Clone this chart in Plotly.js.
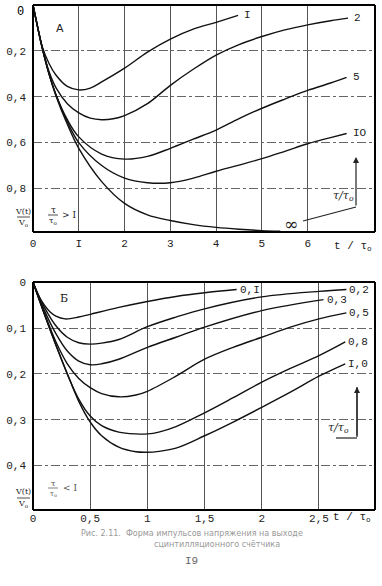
<!DOCTYPE html>
<html><head><meta charset="utf-8">
<script src="https://cdn.plot.ly/plotly-3.0.1.min.js"></script>
<style>html,body{margin:0;padding:0;background:#fff}#c{width:382px;height:586px}</style>
</head><body><div id="c"></div>
<script>
// ---- Chart A (tau/tau0 > 1) ----
const tA_1 = [0,0.1,0.2,0.35,0.5,0.75,1,1.25,1.5,2,2.5,3,3.5,4,4.48];
const vA_1 = [0,0.095,0.18,0.255,0.305,0.355,0.37,0.362,0.335,0.275,0.205,0.148,0.105,0.075,0.045];
const tA_2 = [0,0.1,0.2,0.35,0.5,0.75,1,1.25,1.5,1.75,2,2.5,3,3.5,4,4.5,5,5.5,6,6.5,6.88];
const vA_2 = [0,0.095,0.185,0.29,0.36,0.43,0.47,0.493,0.5,0.496,0.482,0.43,0.35,0.28,0.218,0.172,0.137,0.108,0.086,0.068,0.057];
const tA_5 = [0,0.1,0.2,0.35,0.5,0.75,1,1.5,2,2.5,3,3.5,4,4.5,5,5.5,6,6.5,6.85];
const vA_5 = [0,0.095,0.185,0.3,0.39,0.5,0.575,0.65,0.672,0.66,0.625,0.585,0.545,0.495,0.45,0.41,0.372,0.34,0.315];
const tA_10 = [0,0.1,0.2,0.35,0.5,0.75,1,1.5,2,2.5,3,3.5,4,4.5,5,5.5,6,6.5,6.85];
const vA_10 = [0,0.095,0.185,0.3,0.39,0.51,0.6,0.7,0.755,0.775,0.775,0.755,0.725,0.698,0.67,0.638,0.605,0.578,0.56];
const tA_inf = [0,0.1,0.2,0.35,0.5,0.75,1,1.5,2,2.5,3,3.5,4,4.5,5,5.4];
const vA_inf = [0,0.095,0.185,0.3,0.395,0.52,0.625,0.77,0.865,0.915,0.94,0.958,0.97,0.978,0.984,0.987];
const labelsA = ["I","2","5","IO","∞"];
const xTicksA = [0,1,2,3,4,5,6];
const xTickTextA = ["0","I","2","3","4","5","6"];
const yTicksA = [0,0.2,0.4,0.6,0.8];
const yTickTextA = ["0","0,2","0,4","0,6","0,8"];

// ---- Chart Б (tau/tau0 < 1) ----
const tB_01 = [0,0.05,0.1,0.15,0.2,0.28,0.4,0.5,0.75,1,1.25,1.5,1.78];
const vB_01 = [0,0.03,0.05,0.065,0.074,0.08,0.076,0.07,0.055,0.042,0.031,0.023,0.016];
const tB_02 = [0,0.1,0.2,0.3,0.4,0.5,0.6,0.75,1,1.25,1.5,2,2.5,2.74];
const vB_02 = [0,0.055,0.095,0.12,0.132,0.135,0.133,0.125,0.097,0.076,0.058,0.032,0.02,0.016];
const tB_03 = [0,0.1,0.2,0.3,0.4,0.5,0.6,0.75,1,1.25,1.5,2,2.54];
const vB_03 = [0,0.062,0.112,0.15,0.172,0.18,0.178,0.168,0.142,0.12,0.098,0.062,0.038];
const tB_05 = [0,0.1,0.2,0.3,0.4,0.5,0.6,0.75,0.9,1,1.25,1.5,1.75,2,2.25,2.5,2.74];
const vB_05 = [0,0.068,0.13,0.178,0.21,0.23,0.243,0.25,0.246,0.238,0.205,0.168,0.142,0.12,0.098,0.08,0.067];
const tB_08 = [0,0.1,0.2,0.3,0.4,0.5,0.6,0.75,0.9,1,1.1,1.25,1.5,1.75,2,2.25,2.5,2.73];
const vB_08 = [0,0.07,0.137,0.2,0.255,0.292,0.313,0.327,0.331,0.331,0.327,0.315,0.285,0.252,0.218,0.188,0.16,0.13];
const tB_10 = [0,0.1,0.2,0.3,0.4,0.5,0.6,0.75,0.9,1,1.1,1.25,1.5,1.75,2,2.25,2.5,2.73];
const vB_10 = [0,0.07,0.137,0.2,0.26,0.305,0.335,0.36,0.37,0.371,0.369,0.362,0.335,0.305,0.273,0.24,0.205,0.178];
const labelsB = ["0,I","0,2","0,3","0,5","0,8","I,0"];
const xTicksB = [0,0.5,1,1.5,2,2.5];
const xTickTextB = ["0","0,5","1","1,5","2","2,5"];
const yTicksB = [0,0.1,0.2,0.3,0.4];
const yTickTextB = ["0","0,1","0,2","0,3","0,4"];

const W = 382, H = 586;
const px = x => x / W, py = y => 1 - y / H;
const mono = "Liberation Mono, DejaVu Sans Mono, monospace";
const serif = "DejaVu Serif, serif";
const boxA = {l:33, r:375, t:5, b:232};
const boxB = {l:33, r:375, t:282, b:510};

const seriesA = [[tA_1,vA_1],[tA_2,vA_2],[tA_5,vA_5],[tA_10,vA_10],[tA_inf,vA_inf]];
const seriesB = [[tB_01,vB_01],[tB_02,vB_02],[tB_03,vB_03],[tB_05,vB_05],[tB_08,vB_08],[tB_10,vB_10]];

const line = {color:"#111", width:1.4, shape:"spline", smoothing:1};
const traces = [];
seriesA.forEach(s => traces.push({x:s[0], y:s[1], xaxis:"x", yaxis:"y", mode:"lines", line, hoverinfo:"skip", cliponaxis:false}));
seriesB.forEach(s => traces.push({x:s[0], y:s[1], xaxis:"x2", yaxis:"y2", mode:"lines", line, hoverinfo:"skip", cliponaxis:false}));

const ann = [];
seriesA.slice(0,4).forEach((s,i) => ann.push({xref:"x", yref:"y", x:s[0][s[0].length-1], y:s[1][s[1].length-1],
  text:labelsA[i], showarrow:false, xanchor:"left", yanchor:"middle", xshift:4, font:{family:mono, size:11, color:"#222"}}));
seriesB.forEach((s,i) => ann.push({xref:"x2", yref:"y2", x:s[0][s[0].length-1], y:s[1][s[1].length-1],
  text:labelsB[i], showarrow:false, xanchor:"left", yanchor:"middle", xshift:1, font:{family:mono, size:11, color:"#222"}}));

const txt = (x,y,t,o={}) => Object.assign({xref:"paper", yref:"paper", x:px(x), y:py(y), text:t, showarrow:false,
  xanchor:"center", yanchor:"middle", font:{family:mono, size:11, color:"#222"}}, o);

ann.push(txt(26,12,yTickTextA[0],{xanchor:"right", font:{family:mono, size:12, color:"#000"}}));

ann.push(txt(60,28,"A",{font:{family:"DejaVu Sans", size:11, color:"#222"}}));
ann.push(txt(64,298,"Б",{font:{family:serif, size:11, color:"#222"}}));
ann.push(txt(291,224,"∞",{font:{family:serif, size:17, color:"#222"}}));
ann.push(txt(343,196,"<i>τ/τ<sub>o</sub></i>",{font:{family:serif, size:11, color:"#222"}}));
ann.push(txt(338,428,"<i>τ/τ<sub>o</sub></i>",{font:{family:serif, size:11, color:"#222"}}));
ann.push(txt(353,246,"t / τ<sub>o</sub>",{font:{family:mono, size:11, color:"#222"}}));
ann.push(txt(352,517,"t / τ<sub>o</sub>",{font:{family:mono, size:11, color:"#222"}}));
[[217,"V(t)"],[498,"V(t)"]].forEach(([y,t]) => {
  ann.push(txt(23,y-6,t,{font:{family:serif, size:8, color:"#222"}}));
  ann.push(txt(23,y+6,"V<sub>o</sub>",{font:{family:serif, size:8, color:"#222"}}));
});
ann.push(txt(53,210,"τ",{font:{family:serif, size:9, color:"#222"}}));
ann.push(txt(53,221,"τ<sub>o</sub>",{font:{family:serif, size:8, color:"#222"}}));
ann.push(txt(69,215,"> I",{font:{family:serif, size:9, color:"#222"}}));
ann.push(txt(53,483,"τ",{font:{family:serif, size:8, color:"#555"}}));
ann.push(txt(53,494,"τ<sub>o</sub>",{font:{family:serif, size:7, color:"#555"}}));
ann.push(txt(70,488,"< I",{font:{family:serif, size:9, color:"#555"}}));
ann.push({xref:"paper", yref:"paper", x:px(356), y:py(157), ax:0, ay:50, axref:"pixel", ayref:"pixel",
  text:"", showarrow:true, arrowhead:2, arrowsize:1, arrowwidth:1.2, arrowcolor:"#222"});
ann.push({xref:"paper", yref:"paper", x:px(357), y:py(387), ax:0, ay:50, axref:"pixel", ayref:"pixel",
  text:"", showarrow:true, arrowhead:2, arrowsize:1, arrowwidth:1.2, arrowcolor:"#222"});
ann.push(txt(192,533,"Рис. 2.11.  Форма импульсов напряжения на выходе",{font:{family:"DejaVu Sans", size:8, color:"#999"}}));
ann.push(txt(217,544,"сцинтилляционного счётчика",{font:{family:"DejaVu Sans", size:8, color:"#999"}}));
ann.push(txt(191,561,"I9",{font:{family:mono, size:11, color:"#666"}}));

const seg = (x0,y0,x1,y1,c="#222",w=1.2) => ({type:"line", layer:"above", xref:"paper", yref:"paper", x0:px(x0), y0:py(y0), x1:px(x1), y1:py(y1), line:{color:c, width:w}});
// plot frames as four explicit edges each
const frame = b => [seg(b.l,b.t,b.r,b.t,"#000",2), seg(b.l,b.b,b.r,b.b,"#000",2), seg(b.l,b.t,b.l,b.b,"#000",2), seg(b.r,b.t,b.r,b.b,"#000",2)];
const shapes = [
  ...frame(boxA), ...frame(boxB),
  seg(303,221,356,207), seg(357,437,357,387), seg(336,438,357,438),
  seg(17,217,30,217,"#222",0.8), seg(17,498,30,498,"#222",0.8),
  seg(48,215,58,215,"#222",0.8), seg(48,488,58,488,"#666",0.8)
];

const axBase = {showline:false, zeroline:false, ticks:"",
  showgrid:true, tickfont:{family:mono, size:11, color:"#222"}, fixedrange:true, ticklabeloverflow:"allow"};
const xgrid = {gridcolor:"#555", gridwidth:1, griddash:"solid"};
const ygrid = {gridcolor:"#666", gridwidth:1, griddash:"dashdot"};

const layout = {
  width:W, height:H, margin:{l:0,r:0,t:0,b:0}, paper_bgcolor:"#fff", plot_bgcolor:"#fff", showlegend:false,
  xaxis: Object.assign({}, axBase, xgrid, {domain:[px(boxA.l),px(boxA.r)], range:[0,7.47], tickvals:xTicksA, ticktext:xTickTextA, anchor:"y", ticklabelstandoff:3}),
  yaxis: Object.assign({}, axBase, ygrid, {domain:[py(boxA.b),py(boxA.t)], range:[0.99,-0.0005], tickvals:yTicksA.slice(1), ticktext:yTickTextA.slice(1), anchor:"x", ticklabelstandoff:6}),
  xaxis2: Object.assign({}, axBase, xgrid, {domain:[px(boxB.l),px(boxB.r)], range:[0,2.99], tickvals:xTicksB, ticktext:xTickTextB, anchor:"y2", ticklabelstandoff:0}),
  yaxis2: Object.assign({}, axBase, ygrid, {domain:[py(boxB.b),py(boxB.t)], range:[0.497,-0.0005], tickvals:yTicksB, ticktext:yTickTextB, anchor:"x2", ticklabelstandoff:6}),
  annotations: ann, shapes: shapes
};
Plotly.newPlot("c", traces, layout, {staticPlot:true, displayModeBar:false});
</script></body></html>
